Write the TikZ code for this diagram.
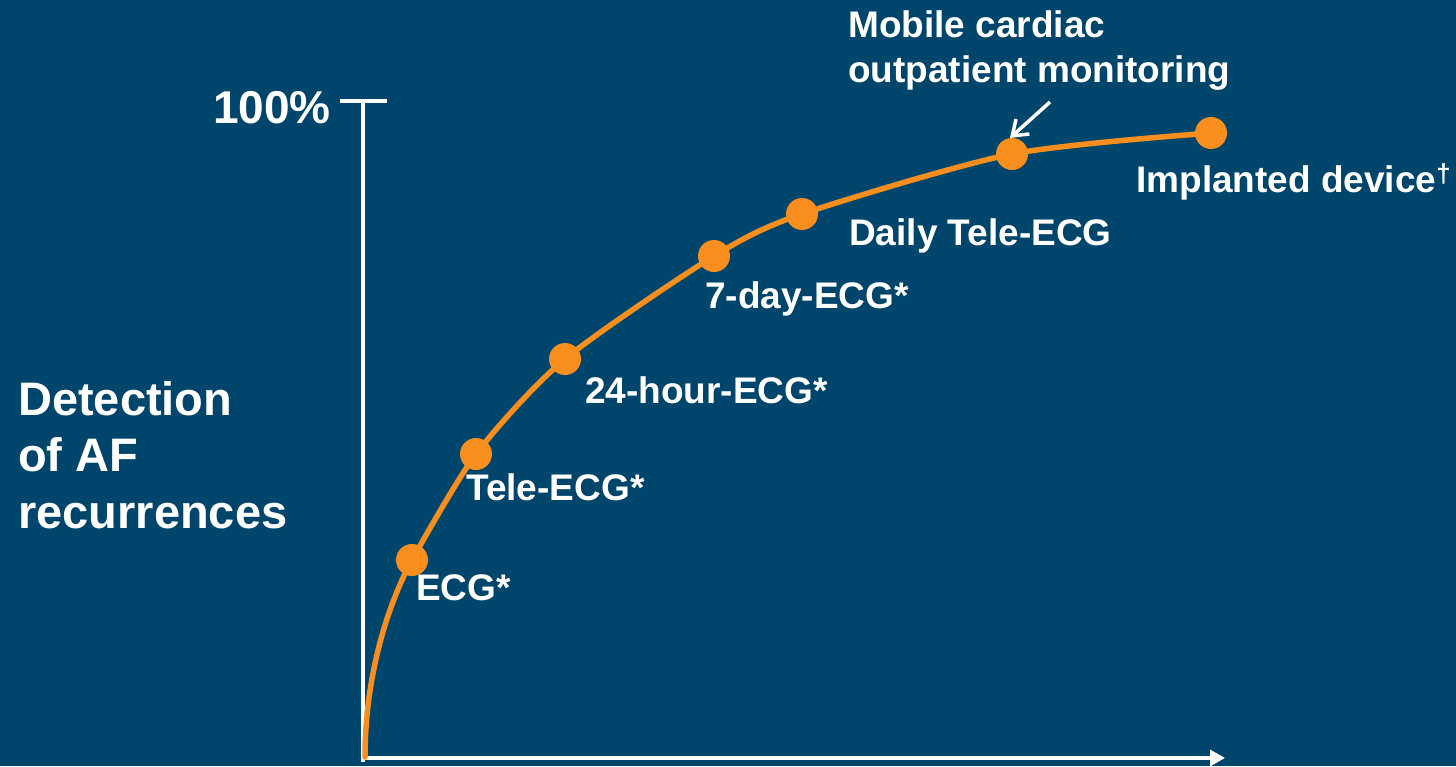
\documentclass[tikz,border=0pt]{standalone}
\usepackage{fontspec}
\setmainfont{Liberation Sans}
\usetikzlibrary{arrows.meta}
\definecolor{bgblue}{RGB}{0,69,107}
\definecolor{curveorange}{RGB}{247,142,30}
\tikzset{
  axisline/.style={draw=white, line width=3.2pt},
  curveline/.style={draw=curveorange, line width=5.5pt, line cap=round},
  dot/.style={circle, fill=curveorange, minimum size=32pt, inner sep=0pt},
  lbl/.style={text=white, font=\fontsize{37}{45}\selectfont\bfseries, inner sep=0pt, anchor=base west},
  biglbl/.style={text=white, font=\fontsize{47}{56.5}\selectfont\bfseries, inner sep=0pt},
}
\begin{document}
\begin{tikzpicture}[x=1pt, y=-1pt]
  % canvas
  \fill[bgblue] (0,0) rectangle (1456,766);
  \useasboundingbox (0,0) rectangle (1456,766);

  % axes
  \coordinate (orig) at (363,758);
  \coordinate (ytop) at (363,101);
  \coordinate (tickL) at (340,101);
  \coordinate (tickR) at (387,101);
  \coordinate (xend) at (1225,758);
  \draw[axisline] (363,762) -- (ytop);
  \draw[axisline] (tickL) -- (tickR);
  \draw[axisline, -{Triangle[length=15pt,width=16pt]}] (orig) -- (xend);

  % detection curve
  \draw[curveline] (365,757) .. controls (365,672) and (390,600) .. (412,560)
    -- plot[smooth, tension=0.45] coordinates {(412,560) (476,454) (565,359) (714,256) (802,214) (1012,154) (1211,133)};

  % monitoring methods
  \node[dot] (ecg)   at (412,560) {};
  \node[dot] (tele)  at (476,454) {};
  \node[dot] (h24)   at (565,359) {};
  \node[dot] (d7)    at (714,256) {};
  \node[dot] (daily) at (802,214) {};
  \node[dot] (mob)   at (1012,154) {};
  \node[dot] (impl)  at (1211,133) {};

  % labels
  \node[biglbl, anchor=base east, font=\fontsize{46}{56}\selectfont\bfseries] (pct) at (331,123) {100\%};
  \node[biglbl, anchor=base west, align=left] (ylab) at (18,528) {Detection\\of AF\\recurrences};
  \node[lbl] (tecg)   at (416,600) {ECG*};
  \node[lbl] (ttele)  at (466,500) {Tele-ECG*};
  \node[lbl] (th24)   at (585,403) {24-hour-ECG*};
  \node[lbl] (td7)    at (705,308) {7-day-ECG*};
  \node[lbl] (tdaily) at (849,245) {Daily Tele-ECG};
  \node[lbl] (timpl)  at (1136,192) {Implanted device\textsuperscript{†}};
  \node[lbl, align=left] (tmob) at (848,82) {Mobile cardiac\\outpatient monitoring};

  % pointer to mobile monitoring
  \coordinate (mobstart) at (1050,102);
  \draw[draw=white, line width=3.5pt, -{Straight Barb[length=14pt,width=20pt]}] (mobstart) -- (mob.97);
\end{tikzpicture}
\end{document}
